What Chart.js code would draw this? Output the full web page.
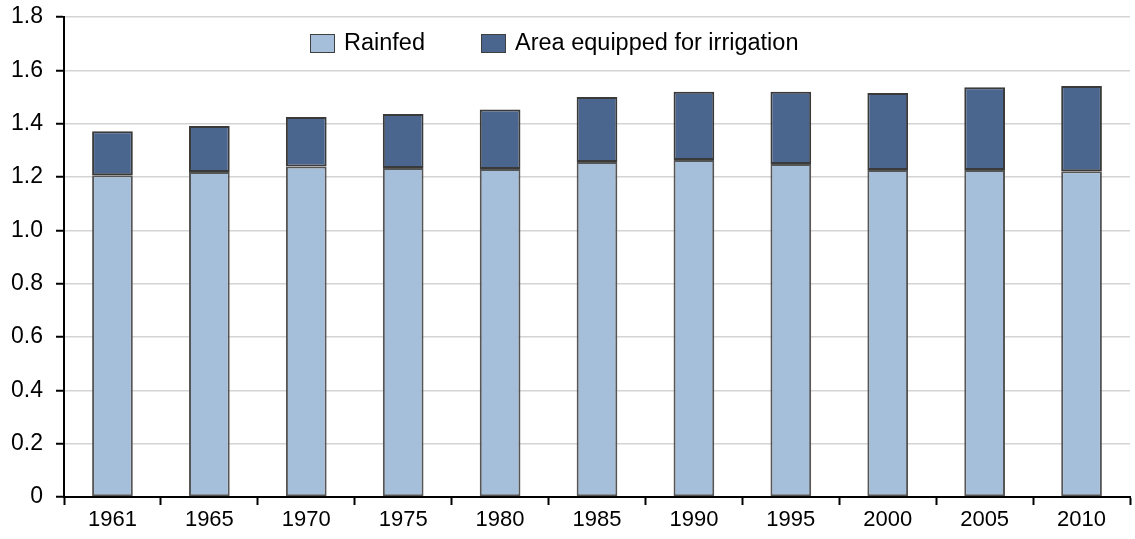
<!DOCTYPE html>
<html lang="en">
<head>
    <meta charset="UTF-8">
    <title>Rainfed and irrigated area</title>
    <style>
        html, body { margin: 0; padding: 0; background: #fff; }
        .wrap { width: 1135px; height: 539px; }
    </style>
</head>
<body>
    <div class="wrap">
        <canvas id="areaChart" width="1135" height="539"></canvas>
    </div>

    <script src="https://cdn.jsdelivr.net/npm/chart.js"></script>
    <script>
        const years = ['1961', '1965', '1970', '1975', '1980', '1985', '1990', '1995', '2000', '2005', '2010'];
        const rainfed = [1.207, 1.219, 1.239, 1.234, 1.230, 1.256, 1.264, 1.249, 1.226, 1.226, 1.222];
        const irrigated = [0.165, 0.172, 0.186, 0.202, 0.223, 0.244, 0.256, 0.271, 0.289, 0.311, 0.319];
        const yTicks = [0, 0.2, 0.4, 0.6, 0.8, 1.0, 1.2, 1.4, 1.6, 1.8];

        const fontFamily = 'Liberation Sans, Arial, sans-serif';
        const font = { family: fontFamily, size: 22 };

        // legend sits inside the plot area, so draw it ourselves
        const insideLegend = {
            id: 'insideLegend',
            afterDraw(chart) {
                const c = chart.ctx;
                const items = [
                    { x: 310, label: 'Rainfed', color: chart.data.datasets[0].backgroundColor },
                    { x: 481, label: 'Area equipped for irrigation', color: chart.data.datasets[1].backgroundColor }
                ];
                c.save();
                c.font = '23.5px ' + fontFamily;
                c.textBaseline = 'middle';
                items.forEach(it => {
                    c.fillStyle = it.color;
                    c.fillRect(it.x, 34, 25, 19);
                    c.strokeStyle = '#404040';
                    c.lineWidth = 1;
                    c.strokeRect(it.x + 0.5, 34.5, 24, 18);
                    c.fillStyle = '#000';
                    c.fillText(it.label, it.x + 34, 44);
                });
                c.restore();
            }
        };

        const ctx = document.getElementById('areaChart').getContext('2d');
        new Chart(ctx, {
            type: 'bar',
            data: {
                labels: years,
                datasets: [
                    {
                        label: 'Rainfed',
                        data: rainfed,
                        backgroundColor: '#a5bfda',
                        borderColor: '#555555',
                        borderWidth: 2,
                        borderSkipped: false
                    },
                    {
                        label: 'Area equipped for irrigation',
                        data: irrigated,
                        backgroundColor: '#4a668f',
                        borderColor: '#3a3a3a',
                        borderWidth: 2,
                        borderSkipped: false
                    }
                ]
            },
            options: {
                responsive: false,
                animation: false,
                datasets: {
                    bar: { barPercentage: 0.42, categoryPercentage: 1.0 }
                },
                layout: { padding: { top: 17, right: 5, left: 0, bottom: 0 } },
                plugins: {
                    legend: { display: false },
                    tooltip: { enabled: false }
                },
                scales: {
                    x: {
                        stacked: true,
                        grid: {
                            offset: true,
                            drawOnChartArea: false,
                            drawTicks: true,
                            tickLength: 8,
                            tickColor: '#000',
                            tickWidth: 2
                        },
                        border: { color: '#000', width: 2 },
                        ticks: { color: '#000', font: font, padding: 2, maxRotation: 0 },
                        afterFit(scale) { scale.height = 42; }
                    },
                    y: {
                        stacked: true,
                        min: 0,
                        max: 1.8,
                        afterBuildTicks(scale) {
                            scale.ticks = yTicks.map(v => ({ value: v }));
                        },
                        grid: {
                            color: ctx => ctx.tick && ctx.tick.value === 0 ? 'rgba(0,0,0,0)' : '#d4d4d4',
                            lineWidth: 1.5,
                            drawTicks: true,
                            tickLength: 8,
                            tickColor: '#000',
                            tickWidth: 2
                        },
                        border: { color: '#000', width: 2 },
                        ticks: {
                            color: '#000',
                            font: { family: fontFamily, size: 23 },
                            padding: 13,
                            callback: v => v === 0 ? '0' : Number(v).toFixed(1)
                        },
                        afterFit(scale) {
                            scale.width = 64;
                            scale.paddingTop = 0;
                            scale.paddingBottom = 0;
                        }
                    }
                }
            },
            plugins: [insideLegend]
        });
    </script>
</body>
</html>
